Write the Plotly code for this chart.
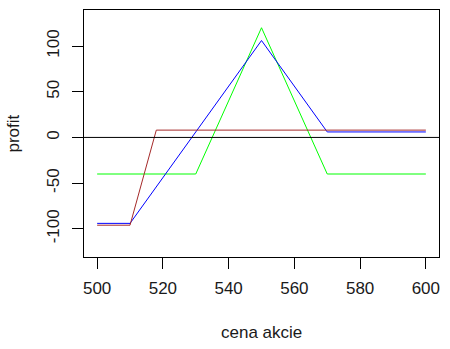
import plotly.graph_objects as go

# data
x_green = [500, 530, 550, 570, 600]
y_green = [-40, -40, 120, -40, -40]
x_blue = [500, 510, 550, 570, 600]
y_blue = [-94, -94, 106, 6, 6]
x_red = [500, 510, 518, 600]
y_red = [-96, -96, 8, 8]
x_ticks = [500, 520, 540, 560, 580, 600]
y_ticks = [-100, -50, 0, 50, 100]
y_ticktext = ["-100", "-50", "0", "50", "100"]

fig = go.Figure()
fig.add_trace(go.Scatter(x=x_green, y=y_green, mode="lines", line=dict(color="#00FF00", width=1)))
fig.add_trace(go.Scatter(x=x_blue, y=y_blue, mode="lines", line=dict(color="#0000FF", width=1)))
fig.add_trace(go.Scatter(x=x_red, y=y_red, mode="lines", line=dict(color="#A52A2A", width=1)))

fig.add_shape(type="line", xref="paper", yref="y", x0=0, x1=1, y0=0, y1=0,
              line=dict(color="black", width=1), layer="above")

font = dict(family="Liberation Sans, Arial, sans-serif", size=17, color="#1a1a1a")
fig.update_layout(
    width=450, height=349,
    margin=dict(l=84, r=11, t=10, b=92),
    paper_bgcolor="white", plot_bgcolor="white",
    showlegend=False,
    font=font,
    xaxis=dict(range=[496, 604], tickvals=x_ticks, ticks="outside", ticklen=11,
               tickcolor="black", showline=True, linecolor="black", linewidth=1,
               mirror=True, showgrid=False, zeroline=False, ticklabelstandoff=5),
    yaxis=dict(range=[-130.8, 139.4], tickvals=y_ticks, ticktext=y_ticktext,
               ticks="outside", ticklen=11,
               tickcolor="black", showline=True, linecolor="black", linewidth=1,
               mirror=True, showgrid=False, zeroline=False, tickangle=-90,
               ticklabelstandoff=6),
    annotations=[
        dict(text="cena akcie", xref="paper", yref="paper", x=0.5, y=0,
             yshift=-75, showarrow=False, font=font, xanchor="center", yanchor="middle"),
        dict(text="profit", xref="paper", yref="paper", x=0, y=0.5, xshift=-71,
             textangle=-90, showarrow=False, font=font, xanchor="center", yanchor="middle"),
    ],
)
fig.write_html("out.html")
